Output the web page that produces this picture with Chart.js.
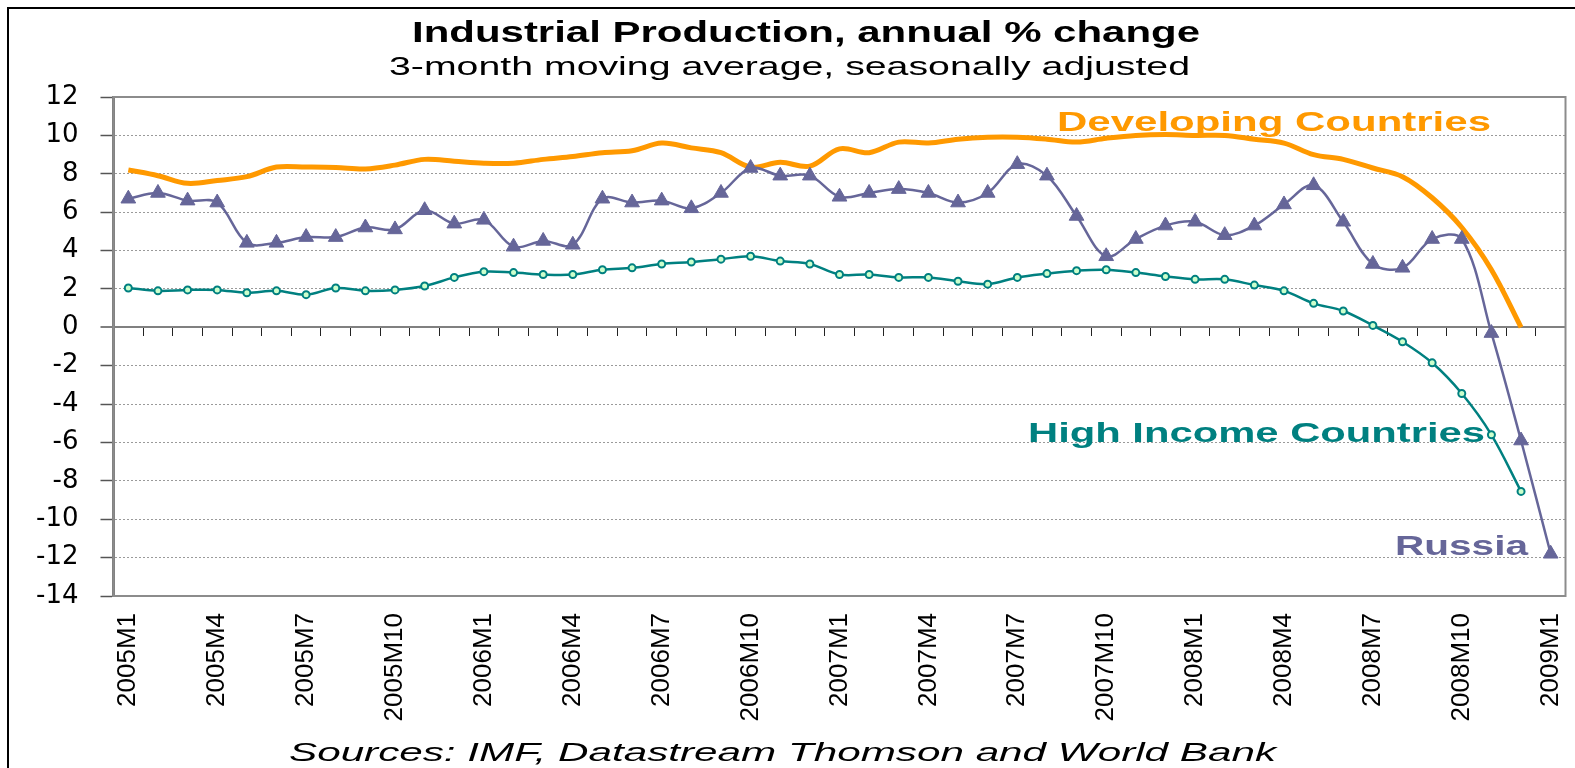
<!DOCTYPE html>
<html>
<head>
<meta charset="utf-8">
<script src="https://cdn.jsdelivr.net/npm/chart.js@4.4.1/dist/chart.umd.min.js"></script>
<style>
  html, body { margin: 0; padding: 0; background: #fff; }
</style>
</head>
<body>
<canvas id="ipChart" width="1575" height="768"></canvas>
<script>
    // monthly categories, 2005M1 .. 2009M1
    const months = [
        '2005M1', '2005M2', '2005M3', '2005M4', '2005M5', '2005M6', '2005M7', '2005M8', '2005M9', '2005M10', '2005M11', '2005M12',
        '2006M1', '2006M2', '2006M3', '2006M4', '2006M5', '2006M6', '2006M7', '2006M8', '2006M9', '2006M10', '2006M11', '2006M12',
        '2007M1', '2007M2', '2007M3', '2007M4', '2007M5', '2007M6', '2007M7', '2007M8', '2007M9', '2007M10', '2007M11', '2007M12',
        '2008M1', '2008M2', '2008M3', '2008M4', '2008M5', '2008M6', '2008M7', '2008M8', '2008M9', '2008M10', '2008M11', '2008M12',
        '2009M1'
    ];

    // annual % change, 3-month moving average
    const developing = [
        8.2, 7.9, 7.5, 7.65, 7.85, 8.35, 8.35, 8.33, 8.25, 8.45, 8.75, 8.65,
        8.55, 8.55, 8.75, 8.9, 9.1, 9.2, 9.6, 9.35, 9.1, 8.35, 8.6, 8.4,
        9.3, 9.1, 9.65, 9.6, 9.8, 9.9, 9.9, 9.8, 9.65, 9.85, 10.0, 10.05,
        10.0, 10.0, 9.8, 9.6, 9.0, 8.75, 8.3, 7.85, 6.75, 5.2, 3.0, 0.0
    ];
    const highIncome = [
        2.05, 1.9, 1.95, 1.95, 1.8, 1.9, 1.7, 2.05, 1.9, 1.95, 2.15, 2.6,
        2.9, 2.85, 2.75, 2.75, 3.0, 3.1, 3.3, 3.4, 3.55, 3.7, 3.45, 3.3,
        2.75, 2.75, 2.6, 2.6, 2.4, 2.25, 2.6, 2.8, 2.95, 3.0, 2.85, 2.65,
        2.5, 2.5, 2.2, 1.9, 1.25, 0.85, 0.1, -0.75, -1.85, -3.45, -5.6, -8.55
    ];
    const russia = [
        6.7, 7.0, 6.6, 6.5, 4.4, 4.4, 4.7, 4.7, 5.2, 5.1, 6.1, 5.4,
        5.6, 4.2, 4.5, 4.3, 6.7, 6.5, 6.6, 6.2, 7.0, 8.3, 7.9, 7.9,
        6.8, 7.0, 7.2, 7.0, 6.5, 7.0, 8.5, 7.9, 5.8, 3.7, 4.6, 5.3,
        5.5, 4.8, 5.3, 6.4, 7.4, 5.5, 3.3, 3.1, 4.6, 4.6, -0.3, -5.9,
        -11.8
    ];

    const yMin = -14;
    const yMax = 12;
    const yStep = 2;
    const labelEvery = 3;   // a tick label every quarter

    const titleText = 'Industrial Production, annual % change';
    const subtitleText = '3-month moving average, seasonally adjusted';
    const sourceText = 'Sources: IMF, Datastream Thomson and World Bank';

    const ORANGE = '#ff9900';
    const TEAL = '#008080';
    const PURPLE = '#666699';
    const ARIAL = '"Liberation Sans", Arial, sans-serif';

    // draw text squeezed/stretched between x0 and x1 (the original uses wide fonts)
    function stretchText(ctx, text, x0, x1, baseline, font, color) {
        ctx.save();
        ctx.font = font;
        ctx.fillStyle = color;
        ctx.textAlign = 'left';
        ctx.textBaseline = 'alphabetic';
        const w = ctx.measureText(text).width;
        ctx.translate(x0, baseline);
        ctx.scale((x1 - x0) / w, 1);
        ctx.fillText(text, 0, 0);
        ctx.restore();
    }

    const framePlugin = {
        id: 'frame',
        beforeDraw(chart) {
            const ctx = chart.ctx;
            ctx.save();
            ctx.fillStyle = '#fff';
            ctx.fillRect(0, 0, chart.width, chart.height);
            ctx.strokeStyle = '#000';
            ctx.lineWidth = 2;
            ctx.beginPath();
            ctx.moveTo(8, chart.height);
            ctx.lineTo(8, 8);
            ctx.lineTo(chart.width, 8);
            ctx.stroke();
            ctx.restore();
        },
        beforeDatasetsDraw(chart) {
            const a = chart.chartArea;
            const ctx = chart.ctx;
            ctx.save();
            ctx.strokeStyle = '#8c8c8c';
            ctx.lineWidth = 2;
            ctx.strokeRect(a.left, a.top, a.right - a.left, a.bottom - a.top);
            ctx.restore();
        }
    };

    const notesPlugin = {
        id: 'notes',
        afterDraw(chart) {
            const ctx = chart.ctx;
            const ds = chart.data.datasets;
            stretchText(ctx, titleText, 412, 1200, 42, 'bold 29px ' + ARIAL, '#000');
            stretchText(ctx, subtitleText, 389, 1190, 75, '25px ' + ARIAL, '#000');
            stretchText(ctx, sourceText, 289, 1276, 761, 'italic 26px ' + ARIAL, '#000');
            stretchText(ctx, ds[0].label, 1057, 1491, 131, 'bold 27px ' + ARIAL, ORANGE);
            stretchText(ctx, ds[1].label, 1028, 1485, 442, 'bold 28px ' + ARIAL, TEAL);
            stretchText(ctx, ds[2].label, 1395, 1528, 555, 'bold 28px ' + ARIAL, PURPLE);
        }
    };

    const ctx = document.getElementById('ipChart').getContext('2d');
    const ipChart = new Chart(ctx, {
        type: 'line',
        data: {
            labels: months,
            datasets: [{
                label: 'Developing Countries',
                data: developing,
                borderColor: ORANGE,
                borderWidth: 5,
                pointRadius: 0,
                tension: 0.35,
                order: 3
            }, {
                label: 'High Income Countries',
                data: highIncome,
                borderColor: TEAL,
                borderWidth: 2.5,
                pointStyle: 'circle',
                pointRadius: 3.5,
                pointBorderWidth: 2,
                pointBorderColor: TEAL,
                pointBackgroundColor: '#ccffcc',
                tension: 0.35,
                order: 2
            }, {
                label: 'Russia',
                data: russia,
                borderColor: PURPLE,
                borderWidth: 2.5,
                pointStyle: 'triangle',
                pointRadius: 8.5,
                pointBorderWidth: 1,
                pointBorderColor: PURPLE,
                pointBackgroundColor: PURPLE,
                tension: 0.35,
                order: 1
            }]
        },
        options: {
            responsive: false,
            animation: false,
            devicePixelRatio: 1,
            layout: {
                padding: { top: 97, left: 8, right: 4, bottom: 42 }
            },
            plugins: {
                legend: { display: false },
                tooltip: { enabled: false }
            },
            scales: {
                x: {
                    type: 'category',
                    position: 'bottom',
                    offset: true,
                    grid: { display: false, drawTicks: false },
                    border: { display: false },
                    ticks: {
                        autoSkip: false,
                        minRotation: 90,
                        maxRotation: 90,
                        padding: 17,
                        color: '#000',
                        font: { family: ARIAL, size: 26 },
                        callback: (value, index) => index % labelEvery === 0 ? months[index] : ''
                    },
                    afterFit: (scale) => {
                        scale.height = 130;
                        scale.paddingLeft = 0;
                        scale.paddingRight = 0;
                    }
                },
                // axis line at zero with the month tick marks
                xZero: {
                    type: 'category',
                    position: { y: 0 },
                    offset: true,
                    grid: {
                        offset: true,
                        drawOnChartArea: false,
                        drawTicks: true,
                        tickLength: 8,
                        tickColor: '#222',
                        tickWidth: 1
                    },
                    border: { display: true, color: '#808080', width: 2 },
                    ticks: { display: false, autoSkip: false },
                    afterFit: (scale) => {
                        scale.height = 0;
                        scale.paddingLeft = 0;
                        scale.paddingRight = 0;
                    }
                },
                y: {
                    min: yMin,
                    max: yMax,
                    grid: {
                        color: (c) => c.tick && c.tick.value === 0 ? '#808080' : '#9a9a9a',
                        lineWidth: (c) => c.tick && c.tick.value === 0 ? 2 : 1,
                        tickLength: 13,
                        tickColor: '#555',
                        tickWidth: 1.5
                    },
                    border: {
                        display: true,
                        color: '#7a7a7a',
                        width: 3,
                        dash: (c) => c.tick && c.tick.value !== 0 ? [2, 2] : []
                    },
                    ticks: {
                        stepSize: yStep,
                        padding: 22,
                        color: '#000',
                        font: { family: '"DejaVu Sans", sans-serif', size: 26 }
                    },
                    afterFit: (scale) => { scale.width = 105.5; }
                }
            }
        },
        plugins: [framePlugin, notesPlugin]
    });
</script>
</body>
</html>
